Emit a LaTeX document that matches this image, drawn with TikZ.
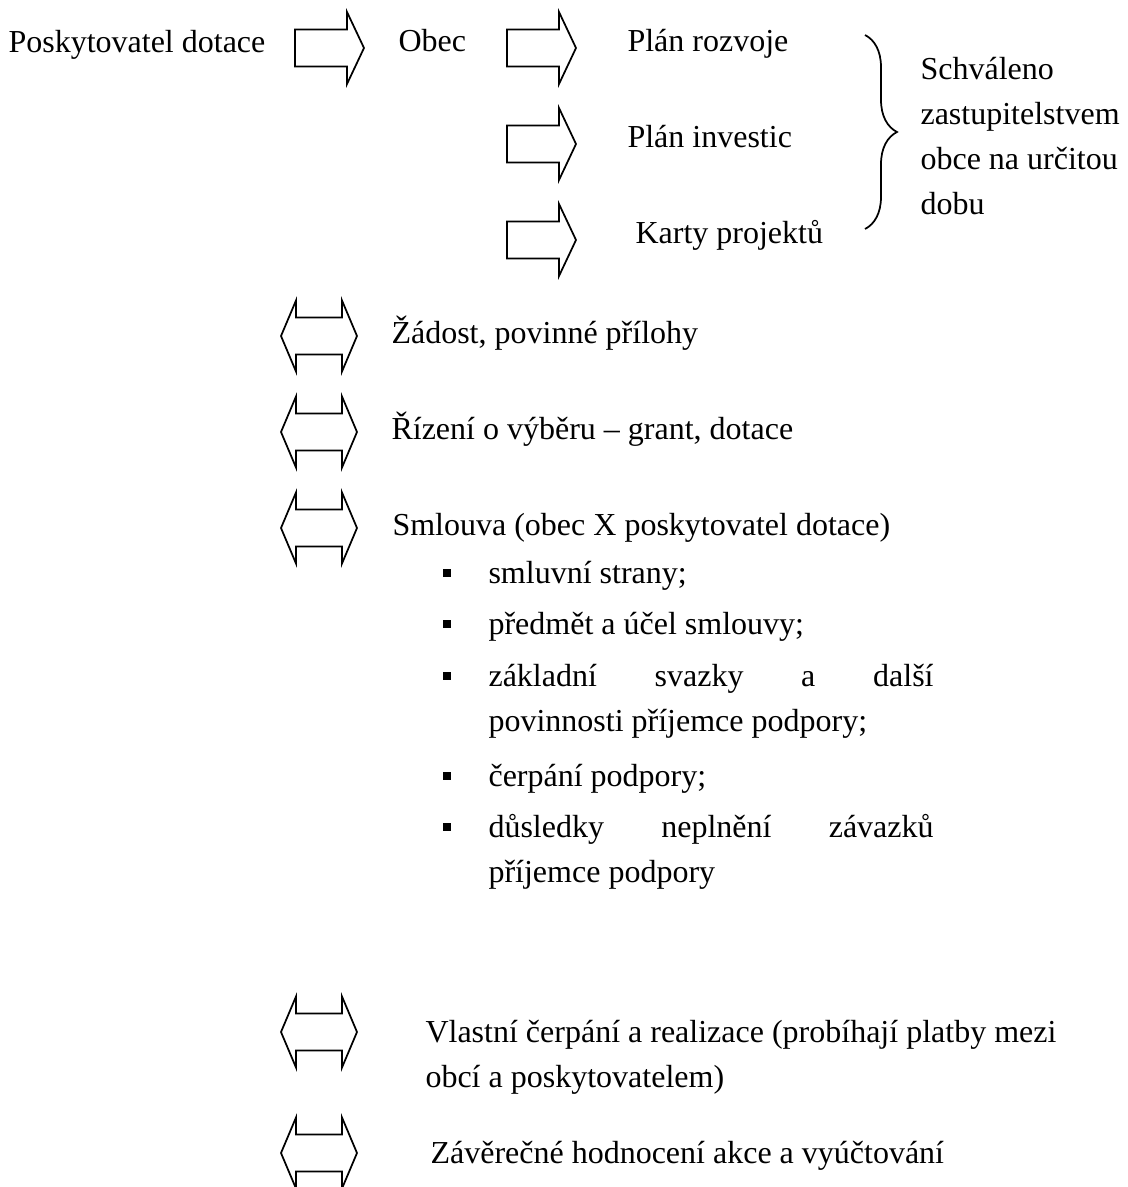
\documentclass[tikz,border=0pt]{standalone}
\usepackage{fontspec}
\setmainfont{Liberation Serif}
\usetikzlibrary{decorations.pathreplacing}
\tikzset{
  blk/.style={draw=black, line width=0.65pt, line join=miter},
  txt/.style={anchor=base west, inner sep=0pt, font=\fontsize{12}{14}\selectfont},
  bul/.style={rectangle, fill=black, inner sep=0pt, minimum size=2.8pt},
  rarrow/.pic={\draw[blk] (0,-18.5) -- (52,-18.5) -- (52,-36) -- (69,0)
      -- (52,36) -- (52,18.5) -- (0,18.5) -- cycle;},
  darrow/.pic={\draw[blk] (-38,0) -- (-23,-35.5) -- (-23,-18.5) -- (23,-18.5)
      -- (23,-35.5) -- (38,0) -- (23,35.5) -- (23,18.5) -- (-23,18.5)
      -- (-23,35.5) -- cycle;}
}
\begin{document}
\begin{tikzpicture}[x=0.375pt, y=-0.375pt]
                \useasboundingbox (0,0) rectangle (1127,1187);
                % Top row
                \node[txt] (posk) at (8, 53) {Poskytovatel dotace};
                \pic at (295, 48) {rarrow};
                \node[txt] (obec) at (398, 52) {Obec};
                \pic at (507, 48) {rarrow};
                \pic at (507, 144) {rarrow};
                \pic at (507, 240) {rarrow};
                \node[txt] (rozvoj) at (627, 52) {Plán rozvoje};
                \node[txt] (invest) at (627, 148) {Plán investic};
                \node[txt] (karty) at (635, 244) {Karty projektů};
                % Brace
                \coordinate (br1) at (865, 35);
                \coordinate (br2) at (865, 229);
                \draw[decorate, decoration={brace, amplitude=12pt}, line width=0.65pt] (br1) -- (br2);
                \node[txt] (schv1) at (920, 80) {Schváleno};
                \node[txt] (schv2) at (920, 125) {zastupitelstvem};
                \node[txt] (schv3) at (920, 170) {obce na určitou};
                \node[txt] (schv4) at (920, 215) {dobu};
                % Steps
                \pic at (319, 336) {darrow};
                \pic at (319, 432) {darrow};
                \pic at (319, 528) {darrow};
                \node[txt] (zadost) at (391, 343) {Žádost, povinné přílohy};
                \node[txt] (rizeni) at (391, 439) {Řízení o výběru – grant, dotace};
                \node[txt] (smlouva) at (392, 535) {Smlouva (obec X poskytovatel dotace)};
                % Items of the contract
                \node[bul] (b1) at (447, 573) {};
                \node[bul] (b2) at (447, 624) {};
                \node[bul] (b3) at (447, 676) {};
                \node[bul] (b4) at (447, 776) {};
                \node[bul] (b5) at (447, 827) {};
                \node[txt] (item1) at (488, 583) {smluvní strany;};
                \node[txt] (item2) at (488, 634) {předmět a účel smlouvy;};
                \node[txt] (item3) at (488, 686) {\makebox[166.9pt][s]{základní svazky a další}};
                \node[txt] (item3b) at (488, 731) {povinnosti příjemce podpory;};
                \node[txt] (item4) at (488, 786) {čerpání podpory;};
                \node[txt] (item5) at (488, 837) {\makebox[166.9pt][s]{důsledky neplnění závazků}};
                \node[txt] (item5b) at (488, 882) {příjemce podpory};
                % Last steps
                \pic at (319, 1032) {darrow};
                \pic at (319, 1153) {darrow};
                \node[txt] (vlastni) at (425, 1042) {Vlastní čerpání a realizace (probíhají platby mezi};
                \node[txt] (vlastnib) at (425, 1087) {obcí a poskytovatelem)};
                \node[txt] (zaver) at (430, 1163) {Závěrečné hodnocení akce a vyúčtování};
\end{tikzpicture}
\end{document}
